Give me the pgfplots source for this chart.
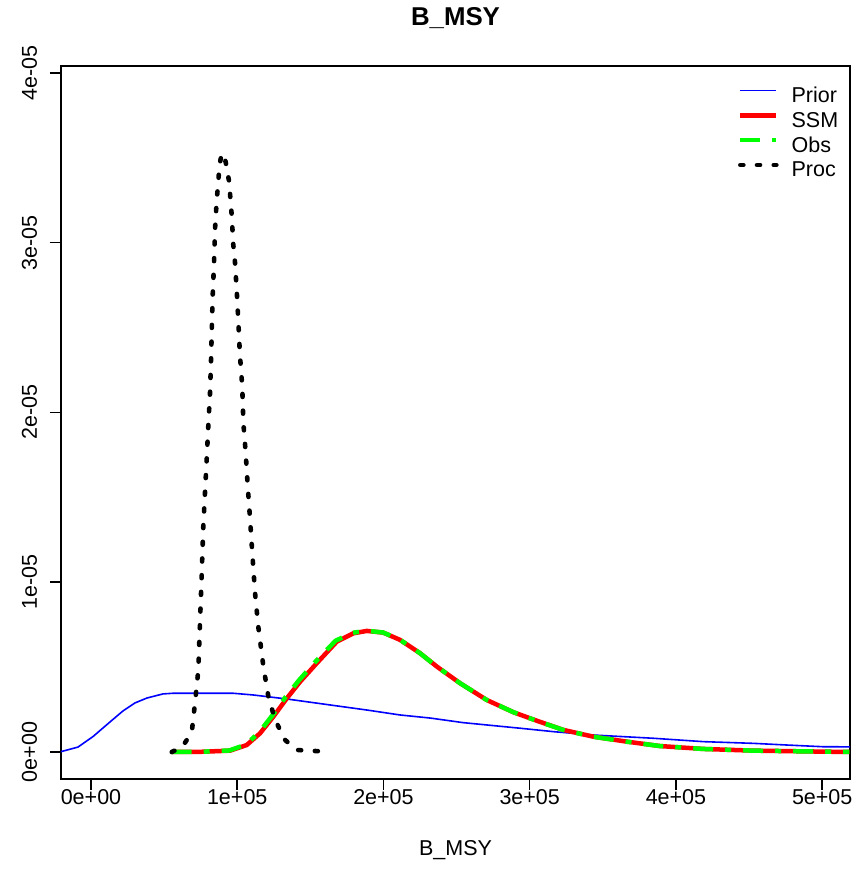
\documentclass[border=0pt]{standalone}
\usepackage{fontspec}
\setmainfont{Liberation Sans}
\usepackage{pgfplots}
\pgfplotsset{compat=1.18}

% Posterior and prior densities of B_MSY
\pgfplotstableread{
x y
-20500 2e-8
-8900 2.9e-7
1400 9.1e-7
13000 1.77e-6
21900 2.42e-6
30100 2.89e-6
38300 3.18e-6
49200 3.42e-6
56100 3.46e-6
97100 3.46e-6
110800 3.36e-6
134100 3.12e-6
163500 2.77e-6
188800 2.47e-6
211400 2.18e-6
231900 2.00e-6
254400 1.73e-6
293400 1.40e-6
316000 1.20e-6
343400 1.00e-6
384400 8.1e-7
418600 6.1e-7
452800 5.1e-7
476100 4.1e-7
500700 3.1e-7
530000 3.0e-7
}\prior

\pgfplotstableread{
x y
55200 0
74600 1e-8
95100 8e-8
106500 4.1e-7
115600 1.10e-6
124700 2.08e-6
133900 3.16e-6
143000 4.14e-6
154400 5.23e-6
168100 6.50e-6
179400 6.99e-6
188600 7.13e-6
199900 7.03e-6
211400 6.60e-6
225000 5.82e-6
236500 5.03e-6
252400 4.05e-6
270700 3.06e-6
288900 2.34e-6
304900 1.84e-6
323100 1.30e-6
343600 9.0e-7
366400 6.1e-7
389200 3.5e-7
418800 1.8e-7
453000 8e-8
518500 0
}\ssm

\pgfplotstableread{
x y
55200 0
74600 1e-8
94600 9e-8
105800 4.3e-7
114800 1.14e-6
123800 2.13e-6
132900 3.22e-6
142000 4.20e-6
153300 5.30e-6
167200 6.55e-6
178800 7.02e-6
188400 7.14e-6
199700 7.04e-6
211200 6.61e-6
224800 5.83e-6
236300 5.04e-6
252200 4.06e-6
270500 3.07e-6
288700 2.35e-6
304700 1.84e-6
322900 1.30e-6
343400 9.0e-7
366200 6.1e-7
389000 3.5e-7
418600 1.8e-7
452800 8e-8
518500 0
}\obs

\pgfplotstableread{
x y
55200 0
62300 2.9e-7
68900 1.15e-6
71100 2.87e-6
73400 4.83e-6
74600 7.78e-6
75700 1.043e-5
76800 1.328e-5
78000 1.534e-5
79100 1.721e-5
80200 1.917e-5
81400 2.114e-5
82100 2.310e-5
82600 2.487e-5
83200 2.683e-5
84100 2.870e-5
84800 3.076e-5
86000 3.253e-5
87100 3.361e-5
87800 3.453e-5
89400 3.524e-5
91000 3.518e-5
92800 3.445e-5
94400 3.361e-5
95300 3.263e-5
96200 3.164e-5
97300 2.988e-5
98500 2.880e-5
99700 2.712e-5
100800 2.526e-5
101900 2.329e-5
102800 2.232e-5
103500 2.133e-5
104200 1.937e-5
105800 1.760e-5
107200 1.563e-5
108800 1.367e-5
110300 1.171e-5
112200 9.35e-6
114400 7.38e-6
117900 5.03e-6
121300 3.26e-6
125900 1.89e-6
132700 7.1e-7
140700 1.2e-7
161200 2e-8
}\proc

\begin{document}
\begin{tikzpicture}
\path[use as bounding box] (-61pt,-102pt) rectangle (800pt,779pt);
\begin{axis}[
  width=789pt, height=713pt, scale only axis,
  xmin=-20500, xmax=519000,
  ymin=-1.59e-6, ymax=4.04e-5,
  scaled ticks=false,
  axis line style={line width=1.5pt},
  tick style={line width=1.5pt, black},
  tick align=outside,
  major tick length=11pt,
  xtick pos=bottom, ytick pos=left,
  xtick={0,100000,200000,300000,400000,500000},
  xticklabels={0e+00,1e+05,2e+05,3e+05,4e+05,5e+05},
  ytick={0,1e-5,2e-5,3e-5,4e-5},
  yticklabels={0e+00,1e-05,2e-05,3e-05,4e-05},
  ticklabel style={font=\fontsize{21.5}{25.8}\selectfont, inner sep=0pt},
  xticklabel style={anchor=base, yshift=-14pt},
  yticklabel style={xshift=-13pt, rotate=90, anchor=base},
  title={B\_MSY},
  title style={at={(axis description cs:0.5,1)}, anchor=base, yshift=34pt,
    inner sep=0pt, font=\bfseries\fontsize{25.8}{31}\selectfont},
  xlabel={B\_MSY},
  xlabel style={at={(axis description cs:0.5,0)}, anchor=base, yshift=-76.7pt,
    inner sep=0pt, font=\fontsize{21.5}{25.8}\selectfont},
  legend cell align=left,
  legend style={draw=none, fill=none, inner sep=0pt, outer sep=0pt,
    at={(axis description cs:0.8581,0.9767)}, anchor=north west,
    column sep=13pt, row sep=-3.4pt,
    font=\fontsize{21.5}{25.8}\selectfont,
    nodes={inner sep=0pt, text height=16pt, text depth=8.4pt}},
  legend image code/.code={
    \path[draw=none, fill=none] (0pt,-8.4pt) rectangle (36pt,16pt);
    \draw[#1] (0pt,8pt) -- (36pt,8pt);
  },
]
\addplot[blue, line width=1.6pt, line join=round] table {\prior};
\addlegendentry{Prior}
\addplot[red, line width=4.5pt, line join=round] table {\ssm};
\addlegendentry{SSM}
\addplot[green, line width=4.5pt, line join=round,
  dash pattern=on 20pt off 12pt on 6pt off 12pt] table {\obs};
\addlegendentry{Obs}
\addplot[black, line width=4.6pt, line cap=round, line join=round,
  dash pattern=on 3pt off 13.7pt] table {\proc};
\addlegendentry{Proc}
\end{axis}
\end{tikzpicture}
\end{document}
